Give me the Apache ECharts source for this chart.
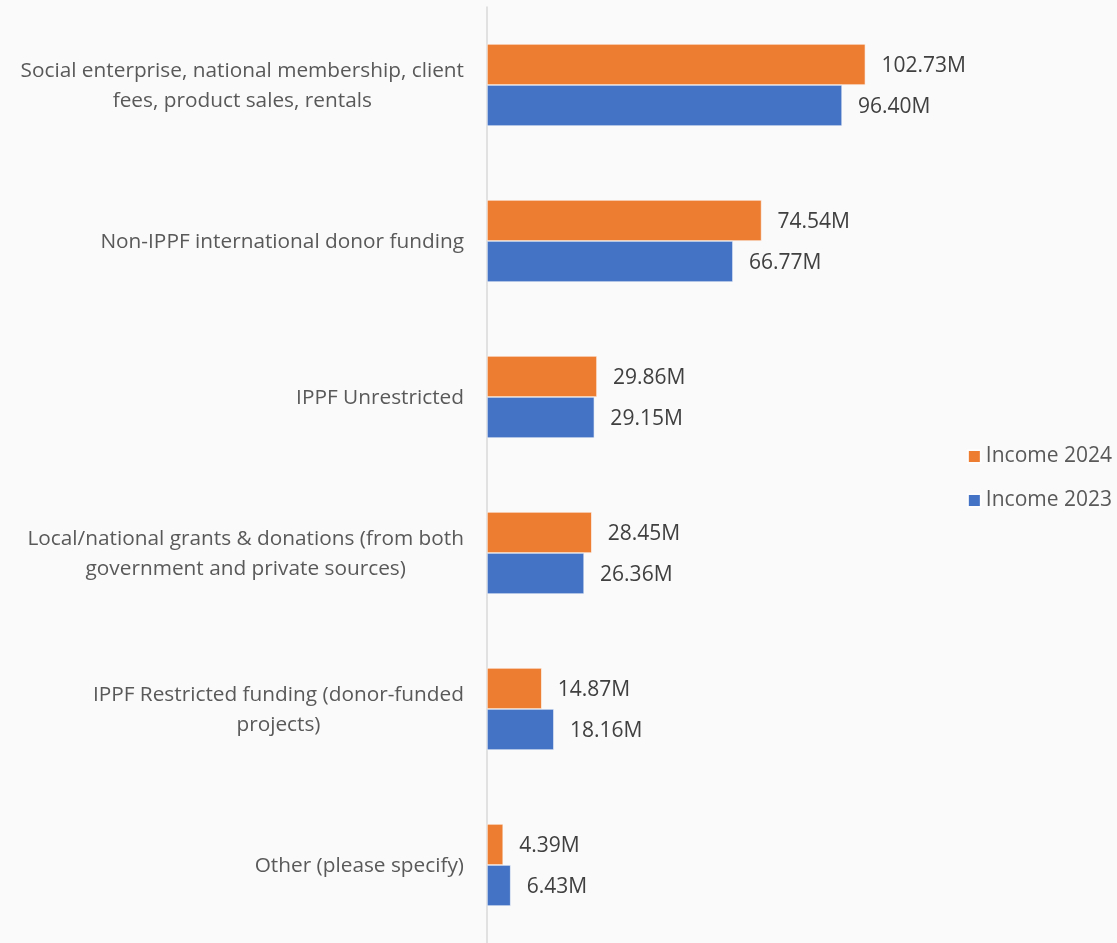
<!DOCTYPE html>
<html>
<head>
<meta charset="utf-8">
<script src="https://cdn.jsdelivr.net/npm/echarts@6/dist/echarts.min.js"></script>
<style>
    html, body { margin: 0; padding: 0; background: #fafafa; }
    #chartsbox { width: 1117px; height: 943px; }
</style>
</head>
<body>
<div id="chartsbox"></div>
<script type="text/javascript">
    // 分类 (上到下)
    var aTypeName = [
        'Social enterprise, national membership, client\nfees, product sales, rentals',
        'Non-IPPF international donor funding',
        'IPPF Unrestricted',
        'Local/national grants & donations (from both\ngovernment and private sources)',
        'IPPF Restricted funding (donor-funded\nprojects)',
        'Other (please specify)'
    ];
    // 数值 (百万)
    var aIncome2024 = [102.73, 74.54, 29.86, 28.45, 14.87, 4.39];
    var aIncome2023 = [96.40, 66.77, 29.15, 26.36, 18.16, 6.43];
    var aLegendData = ['Income 2024', 'Income 2023'];

    var sFont = 'Open Sans';
    var myChart = echarts.init(document.getElementById('chartsbox'));

    function valueLabel() {
        return {
            show: true,
            position: 'right',
            distance: 16,
            offset: [0, 2],
            fontFamily: sFont,
            fontSize: 21,
            color: '#404040',
            formatter: function (p) { return p.value.toFixed(2) + 'M'; }
        };
    }

    var option = {
        backgroundColor: '#fafafa',
        animation: false,
        textStyle: { fontFamily: sFont },
        color: ['#ED7D31', '#4472C4'],
        legend: {
            data: aLegendData,
            orient: 'vertical',
            right: 0,
            top: 441,
            itemWidth: 13,
            itemHeight: 13,
            itemGap: 23,
            icon: 'rect',
            textStyle: { fontFamily: sFont, fontSize: 21, color: '#595959' }
        },
        grid: {
            left: 487,
            top: 7,
            width: 442,
            height: 936
        },
        xAxis: {
            type: 'value',
            min: 0,
            max: 120,
            show: false
        },
        yAxis: {
            type: 'category',
            inverse: true,
            data: aTypeName,
            axisTick: { show: false },
            axisLine: { lineStyle: { color: '#d9d9d9', width: 1.5 } },
            axisLabel: {
                margin: 23,
                fontFamily: sFont,
                fontSize: 20.8,
                color: '#595959',
                lineHeight: 30,
                formatter: function (v) {
                    return v.split('\n').map(function (s) { return '{c|' + s + '}'; }).join('\n');
                },
                rich: {
                    c: { align: 'center', fontFamily: sFont, fontSize: 20.8, color: '#595959', lineHeight: 30, padding: [2, 0, 0, 0] }
                }
            }
        },
        series: [
            {
                name: 'Income 2024',
                type: 'bar',
                data: aIncome2024,
                barGap: '0%',
                barCategoryGap: '47.4%',
                itemStyle: { borderColor: '#fdfdfd', borderWidth: 0.6 },
                label: valueLabel()
            },
            {
                name: 'Income 2023',
                type: 'bar',
                data: aIncome2023,
                barGap: '0%',
                barCategoryGap: '47.4%',
                itemStyle: { borderColor: '#fdfdfd', borderWidth: 0.6 },
                label: valueLabel()
            }
        ]
    };
    myChart.setOption(option);
</script>
</body>
</html>
